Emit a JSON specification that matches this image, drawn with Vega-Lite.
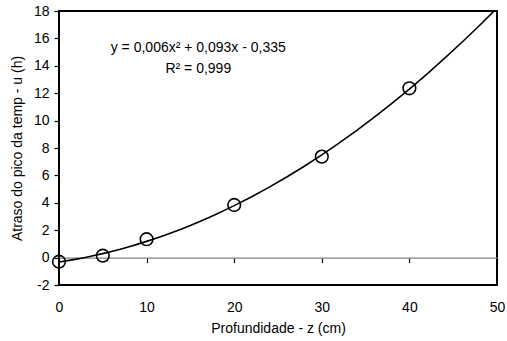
{
  "$schema": "https://vega.github.io/schema/vega-lite/v6.json",
  "autosize": {"type": "none"},
  "width": 438,
  "height": 274,
  "padding": {"left": 59, "top": 11, "right": 10, "bottom": 56},
  "config": {
    "font": "Liberation Sans",
    "view": {"stroke": "black", "strokeWidth": 2},
    "axis": {"labelFont": "Liberation Sans", "titleFont": "Liberation Sans", "labelFontSize": 14, "titleFontSize": 14, "titleFontWeight": "normal", "labelColor": "black", "titleColor": "black", "grid": false}
  },
  "datasets": {
    "pts": [
      {"z": 0, "u": -0.3},
      {"z": 5, "u": 0.14},
      {"z": 10, "u": 1.34},
      {"z": 20, "u": 3.84},
      {"z": 30, "u": 7.37},
      {"z": 40, "u": 12.36}
    ],
    "notes": [
      {"z": 15.9, "u": 15.28, "label": "y = 0,006x² + 0,093x - 0,335"},
      {"z": 15.9, "u": 13.74, "label": "R² = 0,999"}
    ]
  },
  "layer": [
    {
      "data": {"name": "pts"},
      "transform": [{"regression": "u", "on": "z", "method": "poly", "order": 2, "extent": [0, 50]}],
      "mark": {"type": "line", "color": "black", "strokeWidth": 1.6, "clip": true},
      "encoding": {
        "x": {"field": "z", "type": "quantitative", "scale": {"domain": [0, 50], "nice": false},
          "axis": {"orient": "bottom", "offset": -27.4, "title": "Profundidade - z (cm)", "tickCount": 5, "domain": true, "domainColor": "#808080", "domainWidth": 1.2, "ticks": true, "tickColor": "black", "tickWidth": 1.2, "tickSize": 5, "labelPadding": 38, "titlePadding": 7, "labelFlush": false, "labelOverlap": false}},
        "y": {"field": "u", "type": "quantitative", "scale": {"domain": [-2, 18], "nice": false, "zero": false},
          "axis": {"title": "Atraso do pico da temp - u (h)", "tickCount": 10, "labelExpr": "replace(datum.label, '−', '-')", "domain": false, "ticks": true, "tickColor": "black", "tickWidth": 1.2, "tickSize": 5, "labelPadding": 5, "titlePadding": 9, "labelFlush": false, "labelOverlap": false, "labelSeparation": 0}}
      }
    },
    {
      "data": {"name": "pts"},
      "mark": {"type": "point", "shape": "circle", "filled": false, "stroke": "black", "strokeWidth": 1.6, "size": 160, "opacity": 1},
      "encoding": {
        "x": {"field": "z", "type": "quantitative"},
        "y": {"field": "u", "type": "quantitative"}
      }
    },
    {
      "data": {"name": "notes"},
      "mark": {"type": "text", "font": "Liberation Sans", "fontSize": 14, "color": "black", "align": "center", "baseline": "middle"},
      "encoding": {
        "x": {"field": "z", "type": "quantitative"},
        "y": {"field": "u", "type": "quantitative"},
        "text": {"field": "label"}
      }
    }
  ]
}
